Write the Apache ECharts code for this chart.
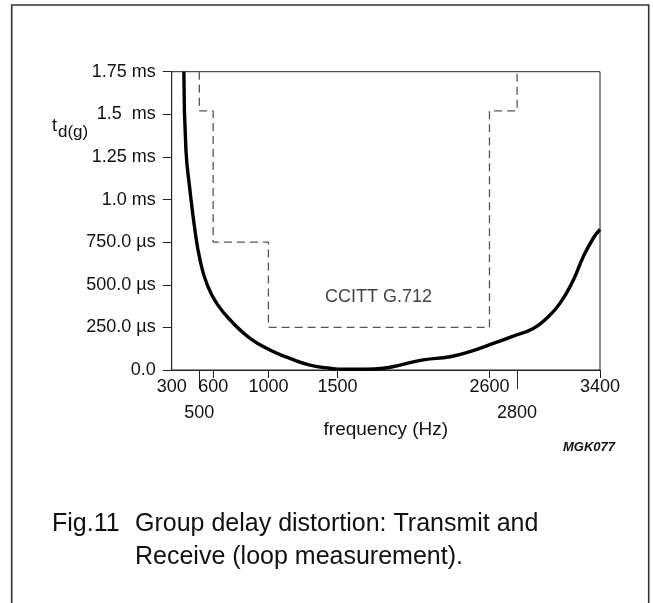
<!DOCTYPE html>
<html><head><meta charset="utf-8">
<script src="https://cdn.jsdelivr.net/npm/echarts@6/dist/echarts.min.js"></script>
<style>html,body{margin:0;padding:0;background:#fff}#c{width:653px;height:603px}</style>
</head><body><div id="c"></div>
<script>
// measured group delay curve (Hz, microseconds)
const curveFreq  = [388, 403, 432, 468, 505, 553, 626, 746, 867, 1011, 1156, 1301, 1446, 1550, 1700, 1832, 1952, 2121, 2314, 2459, 2628, 2772, 2917, 3014, 3110, 3207, 3279, 3351, 3400];
const curveDelay = [1750, 1291, 1056, 822, 646, 509, 391, 274, 186, 117, 68, 29, 10, 4, 4, 10, 29, 59, 78, 108, 156, 199, 244, 303, 391, 528, 665, 773, 825];
// CCITT G.712 mask
const maskFreq  = [500, 500, 600, 600, 1000, 1000, 2600, 2600, 2800, 2800];
const maskDelay = [1750, 1520, 1520, 750, 750, 250, 250, 1520, 1520, 1750];
// axis ticks / labels
const xTickValues  = [600, 1000, 1500, 2600, 3400];
const xLabelValues = [300, 600, 1000, 1500, 2600, 3400];
const xLowerValues = [500, 2800];
const yTickLabels  = ['0.0', '250.0 \u00b5s', '500.0 \u00b5s', '750.0 \u00b5s', '1.0 ms', '1.25 ms', '1.5  ms', '1.75 ms'];
const maskLabel = {freq: 1797, delay: 430, text: 'CCITT G.712'};

const FF = '"Liberation Sans", Arial, Helvetica, sans-serif';
const chart = echarts.init(document.getElementById('c'), null, {renderer: 'canvas'});

const curveData = curveFreq.map((f, i) => [f, curveDelay[i]]);
const maskData = maskFreq.map((f, i) => [f, maskDelay[i]]);

chart.setOption({
  animation: false,
  backgroundColor: '#fff',
  grid: {left: 171.7, top: 71.7, right: 53, bottom: 233, show: true, borderColor: '#222', borderWidth: 1, backgroundColor: 'transparent'},
  xAxis: [{
    type: 'value', min: 300, max: 3400, position: 'bottom',
    axisLine: {show: true, onZero: false, lineStyle: {color: '#222', width: 1}},
    axisTick: {show: true, customValues: xTickValues, length: 8, lineStyle: {color: '#222', width: 1}},
    axisLabel: {customValues: xLabelValues, margin: 8, fontSize: 18, color: '#111', fontFamily: FF, formatter: v => String(v)},
    splitLine: {show: false},
    name: 'frequency (Hz)', nameLocation: 'middle', nameGap: 50,
    nameTextStyle: {fontSize: 19, color: '#111', fontFamily: FF}
  }, {
    type: 'value', min: 300, max: 3400, position: 'bottom',
    axisLine: {show: false, onZero: false},
    axisTick: {show: true, customValues: xLowerValues, length: 19, lineStyle: {color: '#222', width: 1}},
    axisLabel: {customValues: xLowerValues, margin: 34, fontSize: 18, color: '#111', fontFamily: FF, formatter: v => String(v)},
    splitLine: {show: false}
  }],
  yAxis: {
    type: 'value', min: 0, max: 1750, interval: 250,
    axisLine: {show: true, lineStyle: {color: '#222', width: 1}},
    axisTick: {show: true, length: 9, lineStyle: {color: '#222', width: 1}},
    axisLabel: {margin: 16, fontSize: 18, color: '#111', fontFamily: FF,
      formatter: v => yTickLabels[Math.round(v / 250)]},
    splitLine: {show: false}
  },
  series: [{
    type: 'line', data: maskData, xAxisIndex: 0, showSymbol: false, smooth: false,
    lineStyle: {color: '#555', width: 1.3, type: [8, 5]}, z: 2, silent: true
  }, {
    type: 'line', data: curveData, xAxisIndex: 0, showSymbol: false,
    smooth: 0.5, clip: true,
    lineStyle: {color: '#000', width: 3.4}, z: 3, silent: true
  }, {
    type: 'scatter', xAxisIndex: 0, symbolSize: 0,
    data: [[maskLabel.freq, maskLabel.delay]],
    label: {show: true, position: 'inside', formatter: maskLabel.text, fontSize: 18, color: '#111', fontFamily: FF},
    silent: true
  }],
  graphic: [
    {type: 'rect', shape: {x: 11.7, y: 5, width: 637, height: 640}, style: {fill: 'none', stroke: '#333', lineWidth: 1.6}, silent: true},
    {type: 'text', left: 52, top: 117, style: {text: 't', fontSize: 18, fontFamily: FF, fill: '#111'}},
    {type: 'text', left: 58, top: 124, style: {text: 'd(g)', fontSize: 17, fontFamily: FF, fill: '#111'}},
    {type: 'text', right: 38, top: 441, style: {text: 'MGK077', fontSize: 13, fontStyle: 'italic', fontWeight: 'bold', fontFamily: FF, fill: '#111'}},
    {type: 'text', left: 52, top: 512, style: {text: 'Fig.11', fontSize: 25, fontFamily: FF, fill: '#111'}},
    {type: 'text', left: 135, top: 512, style: {text: 'Group delay distortion: Transmit and', fontSize: 25, fontFamily: FF, fill: '#111'}},
    {type: 'text', left: 135, top: 545, style: {text: 'Receive (loop measurement).', fontSize: 25, fontFamily: FF, fill: '#111'}}
  ]
});
</script>
</body></html>
